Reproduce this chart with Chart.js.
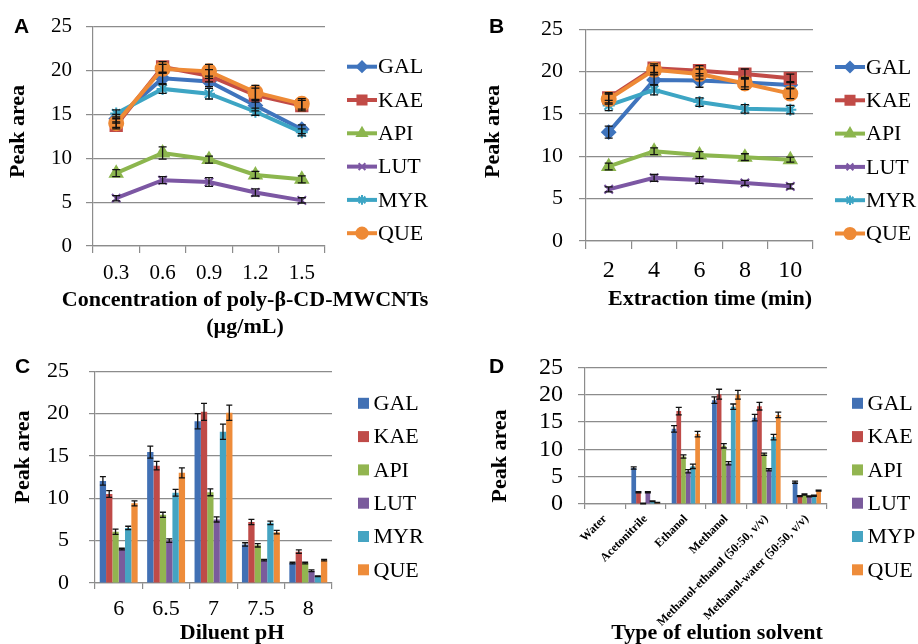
<!DOCTYPE html>
<html>
<head>
<meta charset="utf-8">
<script src="https://cdn.jsdelivr.net/npm/chart.js@4.4.1/dist/chart.umd.min.js"></script>
<style>
  html, body { margin: 0; padding: 0; background: #fff; }
  #wrap { position: relative; width: 918px; height: 644px; overflow: hidden; }
  canvas { position: absolute; }
</style>
</head>
<body>
<div id="wrap">
  <canvas id="plotA" width="459" height="338" style="left:0;top:0"></canvas>
  <canvas id="plotB" width="459" height="338" style="left:459px;top:0"></canvas>
  <canvas id="plotC" width="459" height="306" style="left:0;top:338px"></canvas>
  <canvas id="plotD" width="459" height="306" style="left:459px;top:338px"></canvas>
</div>
<script>
// --- data ---
const seriesNames = ['GAL', 'KAE', 'API', 'LUT', 'MYR', 'QUE'];
const seriesNamesD = ['GAL', 'KAE', 'API', 'LUT', 'MYP', 'QUE'];

// A: concentration of sorbent
const concLabels = ['0.3', '0.6', '0.9', '1.2', '1.5'];
const concPeak = [
  [14.5, 19.1, 18.75, 16.0, 13.3],
  [13.75, 20.4, 19.4, 17.2, 16.0],
  [8.3, 10.6, 9.85, 8.1, 7.6],
  [5.45, 7.5, 7.3, 6.1, 5.2],
  [15.1, 17.9, 17.35, 15.3, 12.95],
  [14.0, 20.2, 19.9, 17.5, 16.2]
];
const concErr = [
  [0.5, 0.6, 0.6, 0.6, 0.5],
  [0.4, 0.6, 0.7, 0.8, 0.6],
  [0.4, 0.7, 0.4, 0.4, 0.4],
  [0.3, 0.4, 0.5, 0.4, 0.3],
  [0.4, 0.5, 0.6, 0.4, 0.4],
  [0.5, 0.5, 0.8, 0.8, 0.6]
];

// B: extraction time
const timeLabels = ['2', '4', '6', '8', '10'];
const timePeak = [
  [12.85, 19.0, 18.95, 18.7, 18.4],
  [16.9, 20.4, 20.1, 19.7, 19.2],
  [8.8, 10.6, 10.15, 9.9, 9.6],
  [6.1, 7.45, 7.2, 6.85, 6.45],
  [16.0, 17.85, 16.4, 15.6, 15.5],
  [16.75, 20.2, 19.7, 18.6, 17.4]
];
const timeErr = [
  [0.7, 0.6, 0.8, 0.5, 0.4],
  [0.6, 0.5, 0.6, 0.6, 0.5],
  [0.4, 0.4, 0.4, 0.4, 0.3],
  [0.3, 0.4, 0.4, 0.3, 0.3],
  [0.6, 0.6, 0.5, 0.5, 0.5],
  [0.6, 0.5, 0.6, 0.7, 0.6]
];

// C: diluent pH
const phLabels = ['6', '6.5', '7', '7.5', '8'];
const phPeak = [
  [12.05, 15.45, 19.1, 4.55, 2.35],
  [10.5, 13.85, 20.2, 7.2, 3.7],
  [6.05, 8.05, 10.7, 4.45, 2.35],
  [4.0, 5.0, 7.5, 2.7, 1.45],
  [6.5, 10.65, 17.85, 7.1, 0.8],
  [9.4, 13.0, 20.1, 6.0, 2.7]
];
const phErr = [
  [0.5, 0.7, 0.9, 0.2, 0.1],
  [0.4, 0.5, 1.0, 0.3, 0.2],
  [0.3, 0.3, 0.4, 0.2, 0.1],
  [0.1, 0.2, 0.3, 0.1, 0.1],
  [0.2, 0.4, 0.9, 0.2, 0.05],
  [0.3, 0.6, 0.9, 0.2, 0.1]
];

// D: elution solvent
const solventLabels = ['Water', 'Acetonitrile', 'Ethanol', 'Methanol',
  'Methanol-ethanol (50:50, v/v)', 'Methanol-water (50:50, v/v)'];
const solventPeak = [
  [0, 6.6, 13.75, 19.0, 15.8, 4.0],
  [0, 2.15, 17.0, 20.1, 17.9, 1.45],
  [0, 0.1, 8.7, 10.65, 9.1, 1.75],
  [0, 2.15, 6.0, 7.45, 6.25, 1.4],
  [0, 0.5, 6.9, 17.8, 12.25, 1.5],
  [0, 0.25, 12.8, 20.0, 16.3, 2.45]
];
const solventErr = [
  [0, 0.2, 0.6, 0.6, 0.6, 0.2],
  [0, 0.1, 0.7, 0.9, 0.7, 0.1],
  [0, 0.05, 0.3, 0.4, 0.2, 0.1],
  [0, 0.1, 0.3, 0.3, 0.2, 0.1],
  [0, 0.05, 0.4, 0.5, 0.5, 0.1],
  [0, 0.05, 0.5, 0.8, 0.5, 0.1]
];

const lineColors = ['#3F74BD', '#C14B47', '#8CB64E', '#7C57A3', '#3DA5C4', '#EE8A36'];
const barColors = ['#4170B4', '#BF4B48', '#92B550', '#7A5B9C', '#45A4C2', '#EE8C3A'];
const markerStyles = ['rectRot', 'rect', 'triangle', 'crossRot', 'star', 'circle'];
const markerSizes = [6.5, 8, 7, 6, 6, 7];

const SERIF = '"Liberation Serif", "Times New Roman", serif';
const axisGray = '#8C8C8C';


const errorBarPlugin = {
  id: 'errorBars',
  afterDatasetsDraw(chart, args, opts) {
    const errs = opts.errors || [];
    const yScale = chart.scales.y;
    const ctx = chart.ctx;
    ctx.save();
    ctx.strokeStyle = '#111';
    ctx.lineWidth = opts.width || 1.3;
    const cap = opts.cap || 3;
    chart.data.datasets.forEach((ds, i) => {
      chart.getDatasetMeta(i).data.forEach((el, j) => {
        const e = errs[i] ? errs[i][j] : 0;
        if (!e) return;
        const v = ds.data[j];
        const top = yScale.getPixelForValue(v + e);
        const bot = yScale.getPixelForValue(Math.max(v - e, 0));
        ctx.beginPath();
        ctx.moveTo(el.x, top); ctx.lineTo(el.x, bot);
        ctx.moveTo(el.x - cap, top); ctx.lineTo(el.x + cap, top);
        ctx.moveTo(el.x - cap, bot); ctx.lineTo(el.x + cap, bot);
        ctx.stroke();
      });
    });
    ctx.restore();
  }
};

// panel letter, axis titles and legend
const decorPlugin = {
  id: 'decor',
  afterDraw(chart, args, o) {
    if (!o.letter) return;
    const ctx = chart.ctx;
    ctx.save();
    ctx.fillStyle = '#000';
    ctx.textBaseline = 'middle';
    ctx.textAlign = 'left';
    ctx.font = 'bold 21px "Liberation Sans", Arial, sans-serif';
    ctx.fillText(o.letter, o.letterX, o.letterY);

    ctx.font = 'bold 22px ' + SERIF;
    ctx.textAlign = 'center';
    o.titleLines.forEach((t, k) => ctx.fillText(t, o.titleX, o.titleY + k * o.titleGap));

    // y title, rotated
    ctx.save();
    ctx.translate(o.yTitleX, o.yTitleY);
    ctx.rotate(-Math.PI / 2);
    ctx.fillText('Peak area', 0, 0);
    ctx.restore();

    ctx.font = '22px ' + SERIF;
    ctx.textAlign = 'left';
    chart.data.datasets.forEach((ds, i) => {
      const yy = o.legendY + i * o.legendGap;
      let tx;
      if (o.legendType === 'line') {
        ctx.strokeStyle = ds.borderColor;
        ctx.lineWidth = ds.borderWidth;
        ctx.beginPath();
        ctx.moveTo(o.legendX, yy);
        ctx.lineTo(o.legendX + 30, yy);
        ctx.stroke();
        ctx.fillStyle = ds.borderColor;
        ctx.lineWidth = 2;
        Chart.helpers.drawPoint(ctx, { pointStyle: ds.pointStyle, radius: ds.pointRadius * 0.8, borderWidth: 2, rotation: 0 }, o.legendX + 15, yy);
        tx = o.legendX + 31;
      } else {
        ctx.fillStyle = ds.backgroundColor;
        ctx.fillRect(o.legendX, yy - 5.5, 11, 11);
        tx = o.legendX + 15.5;
      }
      ctx.fillStyle = '#000';
      ctx.fillText(ds.label, tx, yy + 1);
    });
    ctx.restore();
  }
};

Chart.register(errorBarPlugin, decorPlugin);


function makeChart(id, type, labels, names, values, errs, p) {
  const datasets = names.map((name, i) => type === 'line' ? {
    label: name,
    data: values[i],
    borderColor: lineColors[i],
    backgroundColor: lineColors[i],
    borderWidth: 4,
    tension: 0,
    pointStyle: markerStyles[i],
    pointRadius: markerSizes[i],
    pointBorderWidth: 2,
    pointBackgroundColor: lineColors[i],
    pointBorderColor: lineColors[i],
    order: names.length - i
  } : {
    label: name,
    data: values[i],
    backgroundColor: barColors[i],
    borderWidth: 0,
    categoryPercentage: p.catPct,
    barPercentage: 1
  });

  return new Chart(document.getElementById(id), {
    type: type,
    data: { labels: labels, datasets: datasets },
    options: {
      responsive: false,
      animation: false,
      layout: { padding: { top: p.padTop, right: p.padRight, bottom: 0, left: 0 } },
      scales: {
        x: {
          type: 'category',
          offset: true,
          grid: { offset: true, drawOnChartArea: false, tickLength: p.xTick, color: axisGray, lineWidth: 1.2 },
          border: { display: true, color: axisGray, width: 1.2 },
          ticks: { font: p.xFont, color: '#000', padding: p.xPad, maxRotation: p.rot, minRotation: p.rot, autoSkip: false },
          afterFit: s => { s.height = p.xH; }
        },
        y: {
          min: 0,
          max: 25,
          ticks: { stepSize: 5, autoSkip: false, font: { family: SERIF, size: p.yFont }, color: '#000', padding: p.yPad },
          grid: { color: axisGray, lineWidth: 1.2, tickLength: p.yTick },
          border: { display: true, color: axisGray, width: 1.2 },
          afterFit: s => { s.width = p.yW; }
        }
      },
      plugins: {
        legend: { display: false },
        tooltip: { enabled: false },
        errorBars: { errors: errs, cap: p.cap },
        decor: p.decor
      }
    }
  });
}

makeChart('plotA', 'line', concLabels, seriesNames, concPeak, concErr, {
  padTop: 26, padRight: 134, yW: 93, xH: 92, xTick: 7, xPad: 8,
  xFont: { family: SERIF, size: 21 }, rot: 0, yFont: 21, yPad: 14, yTick: 7, cap: 4,
  decor: {
    letter: 'A', letterX: 14, letterY: 27, yTitleX: 18, yTitleY: 131.5,
    titleLines: ['Concentration of poly-β-CD-MWCNTs', '(µg/mL)'], titleX: 245, titleY: 300, titleGap: 27,
    legendType: 'line', legendX: 347, legendY: 66.7, legendGap: 33.3
  }
});

makeChart('plotB', 'line', timeLabels, seriesNames, timePeak, timeErr, {
  padTop: 27, padRight: 105, yW: 127, xH: 97, xTick: 8, xPad: 7,
  xFont: { family: SERIF, size: 24 }, rot: 0, yFont: 22, yPad: 16, yTick: 7, cap: 4,
  decor: {
    letter: 'B', letterX: 30, letterY: 27, yTitleX: 34, yTitleY: 131.5,
    titleLines: ['Extraction time (min)'], titleX: 251, titleY: 299, titleGap: 27,
    legendType: 'line', legendX: 376, legendY: 67, legendGap: 33.3
  }
});

makeChart('plotC', 'bar', phLabels, seriesNames, phPeak, phErr, {
  padTop: 25, padRight: 127, yW: 95, xH: 61, xTick: 6, xPad: 7,
  xFont: { family: SERIF, size: 22 }, rot: 0, yFont: 22, yPad: 20, yTick: 6, cap: 3,
  catPct: 0.8,
  decor: {
    letter: 'C', letterX: 15, letterY: 29, yTitleX: 23, yTitleY: 119,
    titleLines: ['Diluent pH'], titleX: 232, titleY: 295, titleGap: 27,
    legendType: 'box', legendX: 358, legendY: 65.3, legendGap: 33.3
  }
});

makeChart('plotD', 'bar', solventLabels, seriesNamesD, solventPeak, solventErr, {
  padTop: 26, padRight: 91, yW: 126, xH: 140, xTick: 5, xPad: 3,
  xFont: { family: SERIF, size: 12, weight: 'bold' }, rot: 45, yFont: 24, yPad: 15, yTick: 7, cap: 3,
  catPct: 0.7,
  decor: {
    letter: 'D', letterX: 30, letterY: 29, yTitleX: 41, yTitleY: 118,
    titleLines: ['Type of elution solvent'], titleX: 258, titleY: 295, titleGap: 27,
    legendType: 'box', legendX: 393, legendY: 65.3, legendGap: 33.3
  }
});
</script>
</body>
</html>
